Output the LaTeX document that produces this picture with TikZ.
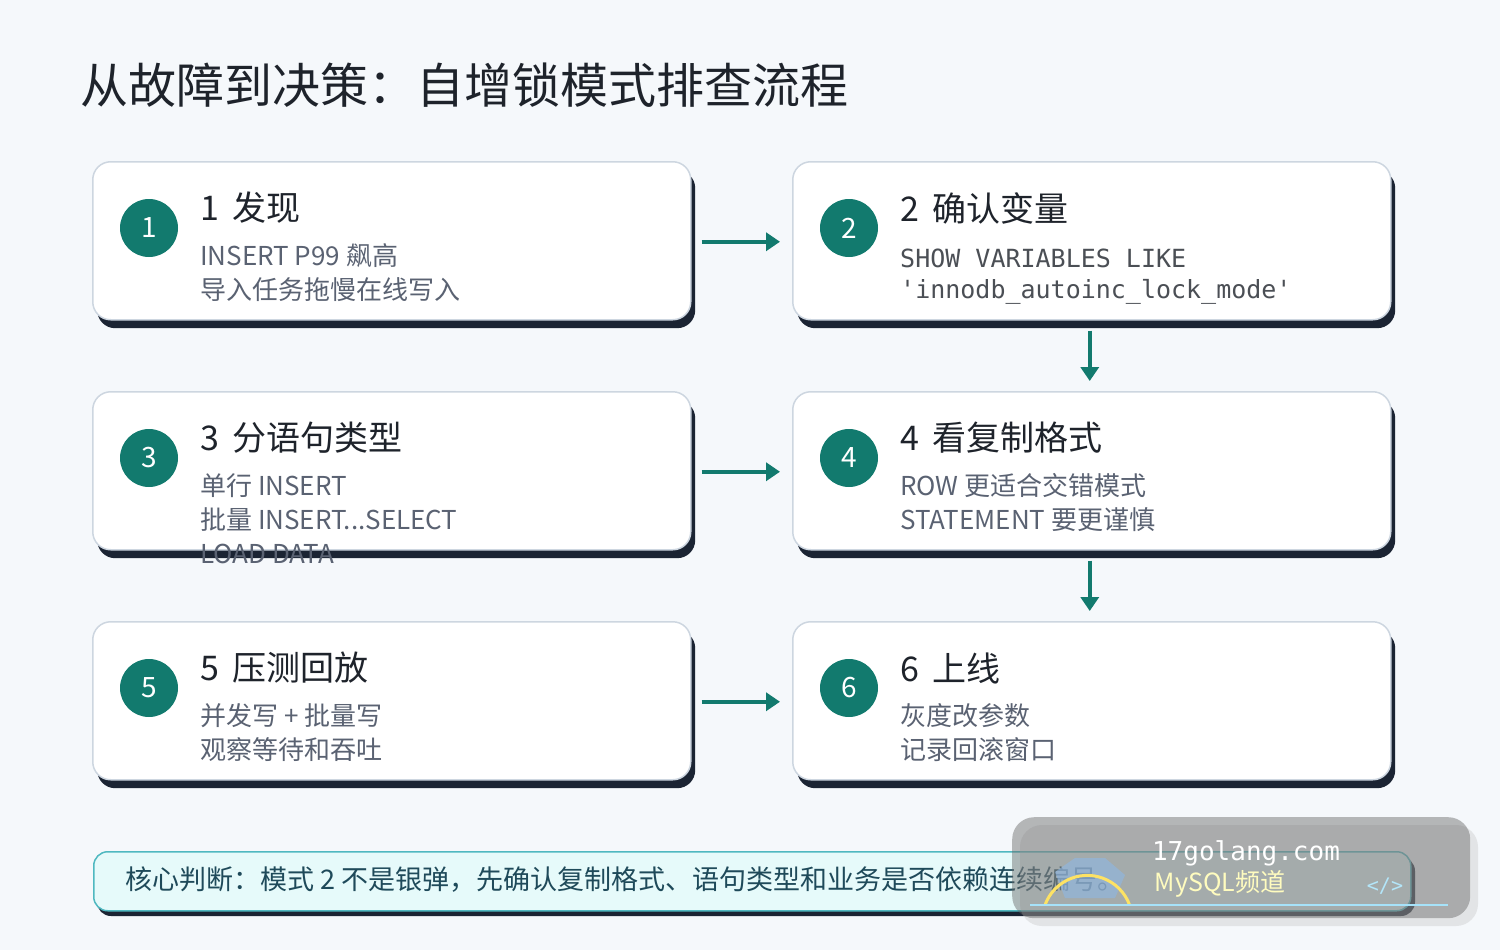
\documentclass[tikz,border=0pt]{standalone}
\usepackage{fontspec}
\setmainfont{Noto Sans CJK SC}
\newfontfamily\monof{DejaVu Sans Mono}
\usetikzlibrary{arrows.meta}
\definecolor{bg}{HTML}{F5F8FB}
\definecolor{teal}{HTML}{127A6E}
\definecolor{navy}{HTML}{1B2433}
\definecolor{bord}{HTML}{CDD6E0}
\definecolor{body}{HTML}{5A6272}
\definecolor{ink}{HTML}{1E232B}
\definecolor{note}{HTML}{E6FAFA}
\definecolor{notebd}{HTML}{4FB8C0}
\definecolor{notetx}{HTML}{1F4A5A}
\tikzset{
 card/.style={draw=bord,line width=1.5pt,fill=white,rounded corners=18pt,minimum width=598pt,minimum height=158pt,anchor=north west},
 shadow/.style={fill=navy,rounded corners=18pt,minimum width=598pt,minimum height=158pt,anchor=north west},
 num/.style={circle,fill=teal,minimum size=58pt,inner sep=0pt,text=white,font=\fontsize{28}{30}\selectfont},
 head/.style={anchor=west,inner sep=0pt,text=ink,font=\fontsize{34}{38}\selectfont},
 txt/.style={anchor=west,inner sep=0pt,text=body,font=\fontsize{26}{28}\selectfont},
 mono/.style={anchor=west,inner sep=0pt,text=ink!80,font=\monof\fontsize{25}{28}\selectfont},
 flow/.style={-{Triangle[length=14pt,width=18pt]},draw=teal,line width=3.5pt}
}
\begin{document}
\begin{tikzpicture}[x=1pt,y=-1pt]
\useasboundingbox (0,0) rectangle (1500,950);
\fill[bg] (0,0) rectangle (1500,950);
\node[anchor=west,inner sep=0pt,text=ink,font=\fontsize{48}{52}\selectfont] (title) at (80,85) {从故障到决策：自增锁模式排查流程};
% cards
\foreach \n/\x/\y in {1/92/161,2/792/161,3/92/391,4/792/391,5/92/621,6/792/621}{
  \node[shadow] at (\x+5,\y+9) {};
  \node[card] (c\n) at (\x,\y) {};
  \node[num] (n\n) at (\x+57,\y+67) {\n};
}
\node[head] (h1) at (200,208) {1\, 发现};
\node[txt] (t1a) at (200,256) {INSERT P99 飙高};
\node[txt] (t1b) at (200,290) {导入任务拖慢在线写入};
\node[head] (h2) at (900,208) {2\, 确认变量};
\node[mono] (t2a) at (900,258) {SHOW VARIABLES LIKE};
\node[mono] (t2b) at (900,292) {'innodb\_autoinc\_lock\_mode'};
\node[head] (h3) at (200,438) {3\, 分语句类型};
\node[txt] (t3a) at (200,486) {单行 INSERT};
\node[txt] (t3b) at (200,520) {批量 INSERT...SELECT};
\node[txt] (t3c) at (200,554) {LOAD DATA};
\node[head] (h4) at (900,438) {4\, 看复制格式};
\node[txt] (t4a) at (900,486) {ROW 更适合交错模式};
\node[txt] (t4b) at (900,520) {STATEMENT 要更谨慎};
\node[head] (h5) at (200,668) {5\, 压测回放};
\node[txt] (t5a) at (200,716) {并发写 + 批量写};
\node[txt] (t5b) at (200,750) {观察等待和吞吐};
\node[head] (h6) at (900,668) {6\, 上线};
\node[txt] (t6a) at (900,716) {灰度改参数};
\node[txt] (t6b) at (900,750) {记录回滚窗口};
% connectors
\draw[flow] ([xshift=10pt,yshift=-1pt]c1.east) -- ([xshift=-12pt,yshift=-1pt]c2.west);
\draw[flow] ([xshift=10pt,yshift=-1pt]c3.east) -- ([xshift=-12pt,yshift=-1pt]c4.west);
\draw[flow] ([xshift=10pt,yshift=-1pt]c5.east) -- ([xshift=-12pt,yshift=-1pt]c6.west);
\draw[flow] ([xshift=-2pt,yshift=-10pt]c2.south) -- ([xshift=-2pt,yshift=10pt]c4.north);
\draw[flow] ([xshift=-2pt,yshift=-10pt]c4.south) -- ([xshift=-2pt,yshift=10pt]c6.north);
% note
\fill[navy,rounded corners=14pt] (97,857) rectangle (1415,916);
\node[draw=notebd,line width=1.5pt,fill=note,rounded corners=14pt,anchor=north west,minimum width=1317pt,minimum height=59pt] (note) at (93,851) {};
\node[anchor=west,inner sep=0pt,text=notetx,font=\fontsize{27}{30}\selectfont] (notet) at (125,880) {核心判断：模式 2 不是银弹，先确认复制格式、语句类型和业务是否依赖连续编号。};
% watermark
\fill[black!25,opacity=0.35,rounded corners=22pt] (1020,825) rectangle (1478,926);
\node[fill=black!60,fill opacity=0.45,rounded corners=22pt,anchor=north west,minimum width=458pt,minimum height=101pt] (wm) at (1012,817) {};
\fill[cyan!60!blue!45,opacity=0.6] (1055,872) -- (1075,858) -- (1105,858) -- (1125,875) -- (1115,898) -- (1065,898) -- cycle;
\draw[yellow!70!orange!60,line width=3pt] (1045,905) arc[start angle=200,end angle=340,radius=45];
\node[text=white,font=\monof\fontsize{26}{30}\selectfont] (wm1) at (1246,853) {17golang.com};
\node[text=yellow!25,font=\fontsize{25}{28}\selectfont] (wm2) at (1220,884) {MySQL频道};
\node[text=cyan!30,font=\monof\fontsize{20}{24}\selectfont] (wm3) at (1385,886) {</>};
\draw[cyan!35,line width=1.5pt] (1030,905) -- (1448,905);
\end{tikzpicture}
\end{document}
